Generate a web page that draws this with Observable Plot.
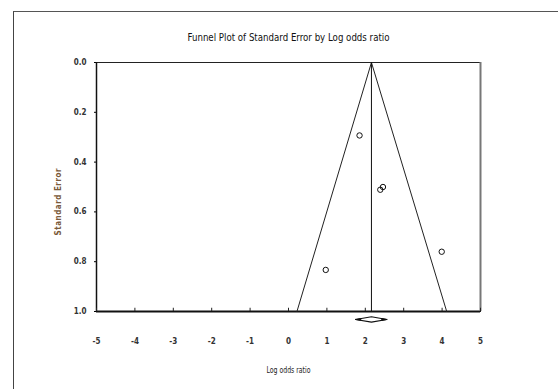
<!DOCTYPE html>
<html>
<head>
<meta charset="utf-8">
<script src="https://cdn.jsdelivr.net/npm/d3@7"></script>
<script src="https://cdn.jsdelivr.net/npm/@observablehq/plot@0.6"></script>
<style>
  html, body { margin: 0; padding: 0; background: #fff; }
  #wrap { position: relative; width: 558px; height: 389px; overflow: hidden; }
  #outer { position: absolute; left: 13px; top: 11px; right: -5px; bottom: -5px;
           border-top: 1px solid #555; border-left: 1px solid #444; }
  #chart { position: absolute; left: 0; top: 0; }
</style>
</head>
<body>
<div id="wrap"><div id="outer"></div><div id="chart"></div></div>
<script>
// Study-level data
const studyLogOR = [1.85, 2.39, 2.46, 3.99, 0.97];
const studySE    = [0.293, 0.511, 0.500, 0.760, 0.833];

// Pooled estimate and funnel (pseudo 95% limits)
const pooledLogOR = 2.16;
const funnelX  = [0.22, 2.16, 4.12];
const funnelSE = [1.0, 0.0, 1.0];

// Summary diamond below the axis (outline and its dark tips)
const diamondX = [1.75, 2.16, 2.56, 2.16, 1.75];
const diamondY = [1.032, 1.021, 1.032, 1.043, 1.032];
const tipLeftX  = [1.75, 1.88, 1.88, 1.75];
const tipLeftY  = [1.032, 1.0285, 1.0355, 1.032];
const tipRightX = [2.56, 2.43, 2.43, 2.56];
const tipRightY = [1.032, 1.0285, 1.0355, 1.032];

const xTicks = [-5, -4, -3, -2, -1, 0, 1, 2, 3, 4, 5];
const yTicks = [0.0, 0.2, 0.4, 0.6, 0.8, 1.0];

const title  = "Funnel Plot of Standard Error by Log odds ratio";
const xLabel = "Log odds ratio";
const yLabel = "Standard Error";

const studies = studyLogOR.map((x, i) => ({x, se: studySE[i]}));
const funnel  = funnelX.map((x, i) => ({x, se: funnelSE[i]}));
const diamond = diamondX.map((x, i) => ({x, se: diamondY[i]}));
const tipL = tipLeftX.map((x, i) => ({x, se: tipLeftY[i]}));
const tipR = tipRightX.map((x, i) => ({x, se: tipRightY[i]}));

const FONT = "'Liberation Sans Narrow', 'DejaVu Sans Condensed', sans-serif";

const chart = Plot.plot({
  width: 558,
  height: 389,
  marginLeft: 96,
  marginRight: 78,
  marginTop: 62,
  marginBottom: 78,
  style: {fontFamily: FONT, background: "transparent", overflow: "visible"},
  x: {domain: [-5, 5]},
  y: {domain: [0, 1], reverse: true},
  marks: [
    Plot.frame({stroke: "#222", strokeWidth: 1}),
    Plot.ruleY([1], {stroke: "#111", strokeWidth: 2}),
    Plot.ruleX([-5], {stroke: "#111", strokeWidth: 1.5}),
    Plot.ruleX([5], {stroke: "#777", strokeWidth: 2}),
    Plot.ruleX(xTicks, {y1: 1, y2: 0.987, stroke: "#222", strokeWidth: 1}),
    Plot.axisY({ticks: yTicks, tickFormat: d3.format(".1f"), tickSize: 2, tickPadding: 8,
                fontSize: 8, fontWeight: "bold", fill: "#333", label: null}),
    Plot.axisX({ticks: xTicks, tickFormat: d => d < 0 ? "-" + Math.abs(d) : String(d),
                tickSize: 0, tickPadding: 27, fontSize: 8, fontWeight: "bold", fill: "#333", label: null}),
    Plot.line(funnel, {x: "x", y: "se", stroke: "#222", strokeWidth: 1}),
    Plot.ruleX([pooledLogOR], {y1: 0, y2: 1, stroke: "#111", strokeWidth: 1}),
    Plot.dot(studies, {x: "x", y: "se", r: 2.7, stroke: "#111", strokeWidth: 1, fill: "none"}),
    Plot.line(diamond, {x: "x", y: "se", stroke: "#111", strokeWidth: 1.2, fill: "none"}),
    Plot.line(tipL, {x: "x", y: "se", stroke: "#111", strokeWidth: 1, fill: "#111"}),
    Plot.line(tipR, {x: "x", y: "se", stroke: "#111", strokeWidth: 1, fill: "#111"}),
    Plot.text([title], {frameAnchor: "top", dy: -25, lineAnchor: "middle", fontSize: 11, fill: "#111"}),
    Plot.text([xLabel], {frameAnchor: "bottom", dy: 59, lineAnchor: "middle", fontSize: 8, fill: "#222"}),
    Plot.text([yLabel], {frameAnchor: "left", dx: -38, dy: 15, rotate: -90, lineAnchor: "middle",
                         fontSize: 8, fontWeight: "bold", fill: "#7a5a3a", textAnchor: "middle"})
  ]
});
// Narrow the text to match the condensed face of the original
chart.querySelectorAll("text").forEach(t => {
  const s = t.textContent;
  if (s === title) { t.setAttribute("textLength", 202); t.setAttribute("lengthAdjust", "spacingAndGlyphs"); }
  if (s === xLabel) { t.setAttribute("textLength", 44); t.setAttribute("lengthAdjust", "spacingAndGlyphs"); }
  if (s === yLabel) { t.setAttribute("textLength", 67); t.setAttribute("lengthAdjust", "spacing"); }
});
document.getElementById("chart").appendChild(chart);
</script>
</body>
</html>
